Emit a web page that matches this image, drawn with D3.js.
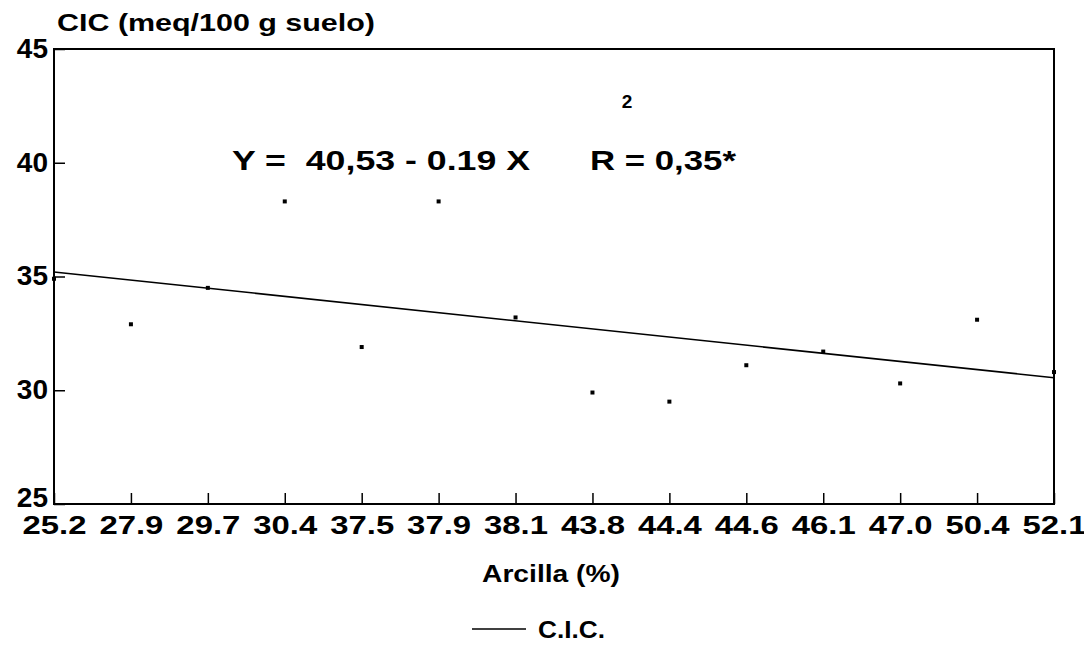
<!DOCTYPE html>
<html>
<head>
<meta charset="utf-8">
<script src="https://cdn.jsdelivr.net/npm/d3@7"></script>
<style>
  body { margin: 0; background: #fff; }
  text { font-family: "Liberation Sans", Arial, sans-serif; font-weight: bold; fill: #000; white-space: pre; }
</style>
</head>
<body>
<div id="vis"></div>
<script>
// clay % categories (x), CIC values (y)
let arcilla = ["25.2","27.9","29.7","30.4","37.5","37.9","38.1","43.8","44.4","44.6","46.1","47.0","50.4","52.1"]
let cic = [34.9, 32.9, 34.5, 38.3, 31.9, 38.3, 33.2, 29.9, 29.5, 31.1, 31.7, 30.3, 33.1, 30.8]
let yTicks = [25, 30, 35, 40, 45]
// regression line value at first and last category
let trendEnds = [35.2, 30.55]

let width = 1084, height = 659
let mLeft = 54, mRight = 1054, mTop = 49, mBottom = 504

let svg = d3.select("#vis")
  .append("svg")
  .attr("width", width)
  .attr("height", height)

let x = d3.scalePoint()
  .domain(arcilla)
  .range([mLeft, mRight])

let y = d3.scaleLinear()
  .domain([25, 45])
  .range([mBottom, mTop])

// y axis, ticks point inside
let yAxis = svg.append("g")
  .attr("transform", `translate(${mLeft},0)`)
  .call(d3.axisLeft(y).tickValues(yTicks).tickSize(-11).tickPadding(6).tickFormat(d3.format("d")))
yAxis.select(".domain").remove()
yAxis.selectAll("line").attr("stroke", "#000").attr("stroke-width", 1.5)
yAxis.selectAll("text")
  .style("font-size", "28px")
  .attr("font-family", null)
  .attr("dy", d => d == 25 ? "0.08em" : "0.3em")

// x axis, ticks point up
let xAxis = svg.append("g")
  .attr("transform", `translate(0,${mBottom})`)
  .call(d3.axisBottom(x).tickSize(-11).tickPadding(12))
xAxis.select(".domain").remove()
xAxis.selectAll("line").attr("stroke", "#000").attr("stroke-width", 1.5)
xAxis.selectAll("text")
  .style("font-size", "25px")
  .attr("font-family", null)
  .attr("textLength", 64)
  .attr("lengthAdjust", "spacingAndGlyphs")

// frame
svg.append("rect")
  .attr("x", mLeft)
  .attr("y", mTop)
  .attr("width", mRight - mLeft)
  .attr("height", mBottom - mTop)
  .attr("fill", "none")
  .attr("stroke", "#000")
  .attr("stroke-width", 2)

// regression line
svg.append("line")
  .attr("x1", x(arcilla[0]))
  .attr("y1", y(trendEnds[0]))
  .attr("x2", x(arcilla[arcilla.length - 1]))
  .attr("y2", y(trendEnds[1]))
  .attr("stroke", "#000")
  .attr("stroke-width", 1.6)

// observed points
svg.selectAll(".pt")
  .data(cic)
  .join("rect")
  .attr("class", "pt")
  .attr("x", (d, i) => x(arcilla[i]) - 2)
  .attr("y", d => y(d) - 2)
  .attr("width", 4)
  .attr("height", 4)
  .attr("fill", "#000")

// titles
svg.append("text")
  .attr("x", 57)
  .attr("y", 31)
  .attr("textLength", 318)
  .attr("lengthAdjust", "spacingAndGlyphs")
  .style("font-size", "24px")
  .text("CIC (meq/100 g suelo)")

svg.append("text")
  .attr("x", 551)
  .attr("y", 582)
  .attr("text-anchor", "middle")
  .attr("textLength", 138)
  .attr("lengthAdjust", "spacingAndGlyphs")
  .style("font-size", "23px")
  .text("Arcilla (%)")

// equation
svg.append("text")
  .attr("x", 232)
  .attr("y", 170)
  .attr("textLength", 298)
  .attr("lengthAdjust", "spacingAndGlyphs")
  .style("font-size", "28px")
  .text("Y =  40,53 - 0.19 X")

svg.append("text")
  .attr("x", 590)
  .attr("y", 170)
  .attr("textLength", 146)
  .attr("lengthAdjust", "spacingAndGlyphs")
  .style("font-size", "28px")
  .text("R = 0,35*")

svg.append("text")
  .attr("x", 627)
  .attr("y", 108)
  .attr("text-anchor", "middle")
  .style("font-size", "19px")
  .text("2")

// legend
let lg = svg.append("g").attr("transform", "translate(472,629)")
lg.append("line")
  .attr("x1", 0).attr("x2", 54)
  .attr("y1", 0).attr("y2", 0)
  .attr("stroke", "#000")
  .attr("stroke-width", 1.6)
lg.append("text")
  .attr("x", 66)
  .attr("y", 9)
  .attr("textLength", 67)
  .attr("lengthAdjust", "spacingAndGlyphs")
  .style("font-size", "24px")
  .text("C.I.C.")
</script>
</body>
</html>
